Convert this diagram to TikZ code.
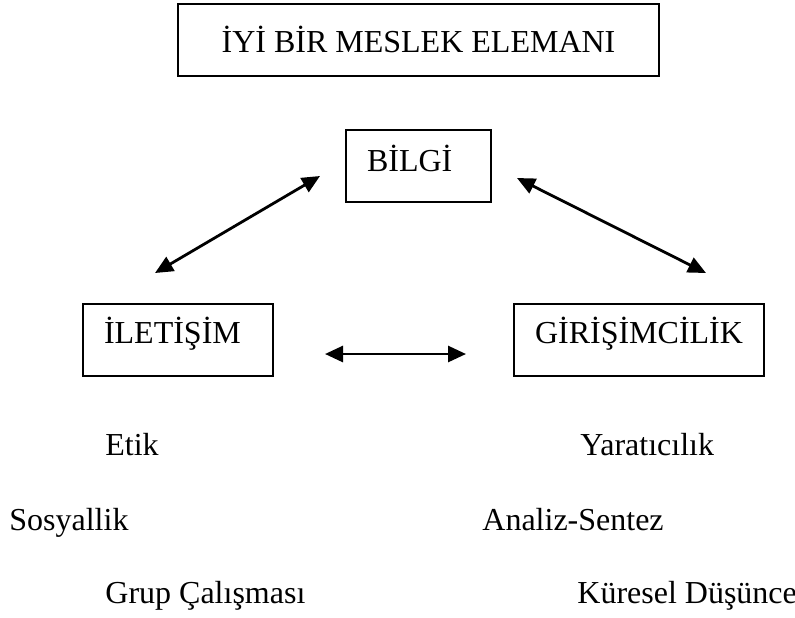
\documentclass[tikz,border=0pt]{standalone}
\usepackage{fontspec}
\setmainfont{Liberation Serif}
\usetikzlibrary{arrows.meta}

\begin{document}
\begin{tikzpicture}[x=0.5pt, y=-0.5pt, font=\fontsize{16}{19}\selectfont,
    box/.style={draw, line width=1pt, anchor=north west, inner ysep=0pt, minimum height=36pt},
    leftbox/.style={box, align=left, inner xsep=10.5pt, text height=11pt, text depth=7pt},
    item/.style={anchor=base west, inner sep=0pt},
    link/.style={line width=1.4pt, {Triangle[length=9pt,width=8pt]}-{Triangle[length=9pt,width=8pt]}}]

    \useasboundingbox (0,0) rectangle (795,617);

    % Title
    \node[box, minimum width=240.5pt, text height=13pt, text depth=0.5pt] (baslik) at (177,3) {İYİ BİR MESLEK ELEMANI};

    % Main boxes
    \node[leftbox, text width=51.5pt, text depth=6pt] (bilgi) at (345,129) {BİLGİ};
    \node[leftbox, text width=74pt, text depth=8pt] (iletisim) at (82,303) {İLETİŞİM};
    \node[leftbox, text width=104pt, text depth=8pt] (girisim) at (513,303) {GİRİŞİMCİLİK};

    % Arrows between boxes
    \draw[link] ([shift={(-23,-30)}]iletisim.north) -- ([shift={(-25,10)}]bilgi.west);
    \draw[link] ([shift={(25,12)}]bilgi.east) -- ([shift={(67,-30)}]girisim.north);
    \draw[link] ([shift={(51,14)}]iletisim.east) -- ([shift={(-47,14)}]girisim.west);

    % Left list
    \node[item] (etik) at (105,455) {Etik};
    \node[item] (sosyal) at (9,530) {Sosyallik};
    \node[item] (grup) at (105,603) {Grup Çalışması};

    % Right list
    \node[item] (yarat) at (580,455) {Yaratıcılık};
    \node[item] (analiz) at (482,530) {Analiz-Sentez};
    \node[item] (kuresel) at (577,603) {Küresel Düşünce};

\end{tikzpicture}
\end{document}
